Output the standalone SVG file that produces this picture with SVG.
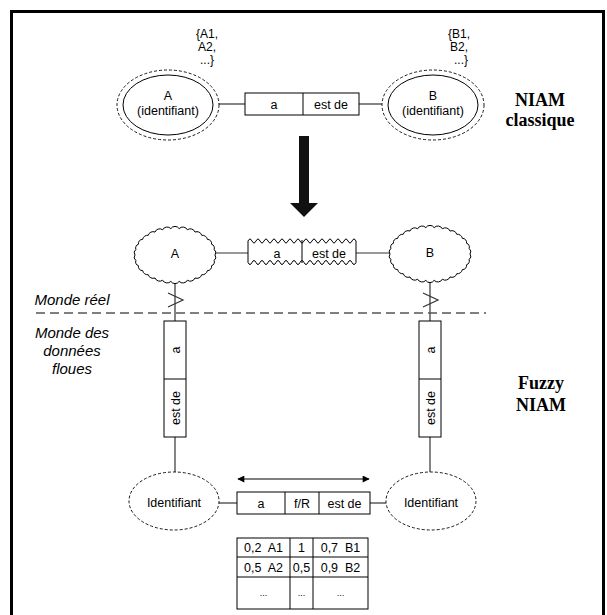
<svg xmlns="http://www.w3.org/2000/svg" width="607" height="615" viewBox="0 0 607 615">
<style>
text{font-family:"Liberation Sans",Arial,sans-serif;font-size:12.5px;fill:#000}
.t12{font-size:12px}
.it{font-style:italic;font-size:15px}
.big{font-family:"Liberation Serif","Times New Roman",serif;font-size:18px;font-weight:bold}
.box{fill:#fff;stroke:#000;stroke-width:1}
.ln{stroke:#333;stroke-width:1.2;fill:none}
.dash{fill:#fff;stroke:#000;stroke-width:0.9;stroke-dasharray:3,2}
.solid{fill:#fff;stroke:#000;stroke-width:1}
.cloud{fill:#fff;stroke:#000;stroke-width:1}
</style>
<defs>
<path id="cloudShape" d="M40,0 A4,4 0 0 1 39.12,5.51 A4,4 0 0 1 36.54,10.78 A4,4 0 0 1 32.36,15.58 A5,5 0 0 1 26.76,19.69 A5,5 0 0 1 20,22.95 A5,5 0 0 1 12.36,25.2 A5,5 0 0 1 4.18,26.35 A5,5 0 0 1 -4.18,26.35 A5,5 0 0 1 -12.36,25.2 A5,5 0 0 1 -20,22.95 A5,5 0 0 1 -26.76,19.69 A5,5 0 0 1 -32.36,15.58 A4,4 0 0 1 -36.54,10.78 A4,4 0 0 1 -39.12,5.51 A4,4 0 0 1 -40,0 A4,4 0 0 1 -39.12,-5.51 A4,4 0 0 1 -36.54,-10.78 A4,4 0 0 1 -32.36,-15.58 A5,5 0 0 1 -26.76,-19.69 A5,5 0 0 1 -20,-22.95 A5,5 0 0 1 -12.36,-25.2 A5,5 0 0 1 -4.18,-26.35 A5,5 0 0 1 4.18,-26.35 A5,5 0 0 1 12.36,-25.2 A5,5 0 0 1 20,-22.95 A5,5 0 0 1 26.76,-19.69 A5,5 0 0 1 32.36,-15.58 A4,4 0 0 1 36.54,-10.78 A4,4 0 0 1 39.12,-5.51 A4,4 0 0 1 40,0 Z"/>
<marker id="ah" viewBox="0 0 10 10" refX="9" refY="5" markerWidth="9" markerHeight="7" markerUnits="userSpaceOnUse" orient="auto-start-reverse">
<path d="M0,0 L10,5 L0,10 Z" fill="#000"/>
</marker>
</defs>

<rect width="607" height="615" fill="#fff"/>
<path id="frame" d="M11.5,620 V11.5 H603.5 V620" fill="none" stroke="#000" stroke-width="3"/>

<g id="connectors">
<line class="ln" x1="213" y1="104" x2="245" y2="104"/>
<line class="ln" x1="359" y1="104" x2="388" y2="104"/>
<line class="ln" x1="215" y1="253" x2="248" y2="253"/>
<line class="ln" x1="356" y1="253" x2="390" y2="253"/>
<line class="ln" x1="175" y1="282" x2="175" y2="321"/>
<polyline class="ln" points="168,293 183,300 168,307"/>
<line class="ln" x1="430" y1="282" x2="430" y2="321"/>
<polyline class="ln" points="423,293 438,300 423,307"/>
<line class="ln" x1="175" y1="437" x2="175" y2="473"/>
<line class="ln" x1="430" y1="437" x2="430" y2="473"/>
<line class="ln" x1="219" y1="503" x2="237" y2="503"/>
<line class="ln" x1="370" y1="503" x2="386" y2="503"/>
<line x1="238" y1="479" x2="369" y2="479" stroke="#000" stroke-width="1.2" marker-start="url(#ah)" marker-end="url(#ah)"/>
<line x1="36" y1="313" x2="486" y2="313" stroke="#555" stroke-width="1.5" stroke-dasharray="9,5"/>
</g>

<g id="set-A">
<text class="t12" x="207" y="38" text-anchor="middle">{A1,</text>
<text class="t12" x="207" y="51" text-anchor="middle">A2,</text>
<text class="t12" x="207" y="64" text-anchor="middle">...}</text>
</g>
<g id="set-B">
<text class="t12" x="459" y="38" text-anchor="middle">{B1,</text>
<text class="t12" x="459" y="51" text-anchor="middle">B2,</text>
<text class="t12" x="461" y="64" text-anchor="middle">...}</text>
</g>

<g id="entity-A">
<ellipse class="dash" cx="168" cy="105" rx="51" ry="35"/>
<ellipse class="solid" cx="168" cy="105" rx="45" ry="30"/>
<text x="168" y="99.5" text-anchor="middle">A</text>
<text x="168" y="114.5" text-anchor="middle">(identifiant)</text>
</g>
<g id="entity-B">
<ellipse class="dash" cx="433" cy="105" rx="51" ry="35"/>
<ellipse class="solid" cx="433" cy="105" rx="45" ry="30"/>
<text x="433" y="99.5" text-anchor="middle">B</text>
<text x="433" y="114.5" text-anchor="middle">(identifiant)</text>
</g>
<g id="fact-top">
<rect class="box" x="245" y="93" width="114" height="22"/>
<line x1="303" y1="93" x2="303" y2="115" stroke="#000"/>
<text x="274" y="108.5" text-anchor="middle">a</text>
<text x="331" y="108.5" text-anchor="middle">est de</text>
</g>
<g id="label-classique">
<text class="big" x="540" y="106" text-anchor="middle">NIAM</text>
<text class="big" x="540" y="126" text-anchor="middle">classique</text>
</g>

<g id="transform-arrow">
<rect x="299" y="136" width="10" height="68" fill="#111"/>
<polygon points="290,203 318,203 304,217" fill="#111"/>
</g>

<g id="cloud-A">
<use href="#cloudShape" class="cloud" transform="translate(175,255)"/>
<text x="175" y="258" text-anchor="middle">A</text>
</g>
<g id="cloud-B">
<use href="#cloudShape" class="cloud" transform="translate(430,254)"/>
<text x="430" y="257" text-anchor="middle">B</text>
</g>
<g id="fact-wavy">
<path class="box" d="M248,241 q2,-4 4,0 t4,0 t4,0 t4,0 t4,0 t4,0 t4,0 t4,0 t4,0 t4,0 t4,0 t4,0 t4,0 t4,0 t4,0 t4,0 t4,0 t4,0 t4,0 t4,0 t4,0 t4,0 t4,0 t4,0 t4,0 t4,0 t4,0 L356,262.5 q-2,4 -4,0 t-4,0 t-4,0 t-4,0 t-4,0 t-4,0 t-4,0 t-4,0 t-4,0 t-4,0 t-4,0 t-4,0 t-4,0 t-4,0 t-4,0 t-4,0 t-4,0 t-4,0 t-4,0 t-4,0 t-4,0 t-4,0 t-4,0 t-4,0 t-4,0 t-4,0 t-4,0 Z"/>
<line x1="302" y1="240" x2="302" y2="263" stroke="#000"/>
<text x="277" y="257.5" text-anchor="middle">a</text>
<text x="329" y="257.5" text-anchor="middle">est de</text>
</g>

<g id="label-monde">
<text class="it" x="72" y="305" text-anchor="middle">Monde réel</text>
<text class="it" x="72" y="338" text-anchor="middle">Monde des</text>
<text class="it" x="72" y="356" text-anchor="middle">données</text>
<text class="it" x="72" y="374" text-anchor="middle">floues</text>
</g>

<g id="role-left">
<rect class="box" x="164" y="321" width="22" height="116"/>
<line x1="164" y1="379" x2="186" y2="379" stroke="#000"/>
<text transform="translate(179.5,350) rotate(-90)" text-anchor="middle">a</text>
<text transform="translate(179.5,408) rotate(-90)" text-anchor="middle">est de</text>
</g>
<g id="role-right">
<rect class="box" x="419" y="321" width="22" height="116"/>
<line x1="419" y1="379" x2="441" y2="379" stroke="#000"/>
<text transform="translate(434.5,350) rotate(-90)" text-anchor="middle">a</text>
<text transform="translate(434.5,408) rotate(-90)" text-anchor="middle">est de</text>
</g>

<g id="label-fuzzy">
<text class="big" x="541" y="389" text-anchor="middle">Fuzzy</text>
<text class="big" x="541" y="411" text-anchor="middle">NIAM</text>
</g>

<g id="ident-left">
<ellipse class="dash" cx="174" cy="501" rx="45" ry="29"/>
<text x="174" y="507" text-anchor="middle">Identifiant</text>
</g>
<g id="ident-right">
<ellipse class="dash" cx="431" cy="501" rx="45" ry="29"/>
<text x="431" y="507" text-anchor="middle">Identifiant</text>
</g>

<g id="fact-bottom">
<rect class="box" x="237" y="492" width="133" height="22"/>
<line x1="285" y1="492" x2="285" y2="514" stroke="#000"/>
<line x1="319" y1="492" x2="319" y2="514" stroke="#000"/>
<text x="261" y="507.5" text-anchor="middle">a</text>
<text x="302" y="507.5" text-anchor="middle">f/R</text>
<text x="344.5" y="507.5" text-anchor="middle">est de</text>
</g>

<g id="table">
<rect class="box" x="237" y="538" width="131" height="71"/>
<line x1="237" y1="557" x2="368" y2="557" stroke="#000"/>
<line x1="237" y1="577" x2="368" y2="577" stroke="#000"/>
<line x1="290" y1="538" x2="290" y2="609" stroke="#000"/>
<line x1="313" y1="538" x2="313" y2="609" stroke="#000"/>
<text x="263.5" y="552" text-anchor="middle" xml:space="preserve">0,2  A1</text>
<text x="301.5" y="552" text-anchor="middle">1</text>
<text x="340.5" y="552" text-anchor="middle" xml:space="preserve">0,7  B1</text>
<text x="263.5" y="572" text-anchor="middle" xml:space="preserve">0,5  A2</text>
<text x="301.5" y="572" text-anchor="middle">0,5</text>
<text x="340.5" y="572" text-anchor="middle" xml:space="preserve">0,9  B2</text>
<text x="263.5" y="596" text-anchor="middle" style="font-size:9px">...</text>
<text x="301.5" y="596" text-anchor="middle" style="font-size:9px">...</text>
<text x="340.5" y="596" text-anchor="middle" style="font-size:9px">...</text>
</g>
</svg>
